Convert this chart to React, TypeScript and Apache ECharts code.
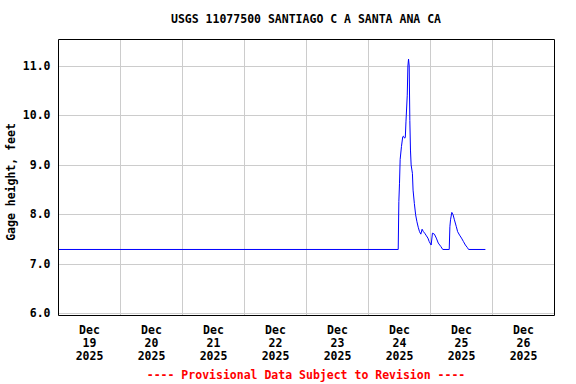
import React, { useEffect, useRef } from "react";
import * as echarts from "echarts";

const TITLE = "USGS 11077500 SANTIAGO C A SANTA ANA CA";
const Y_NAME = "Gage height, feet";
const FOOTER = "---- Provisional Data Subject to Revision ----";

// Day boundaries (gridlines) and day label positions
const dayStarts = ["12-19", "12-20", "12-21", "12-22", "12-23", "12-24", "12-25", "12-26", "12-27"];
const labelDays = ["12-19", "12-20", "12-21", "12-22", "12-23", "12-24", "12-25", "12-26"];
const yTicks = [6, 7, 8, 9, 10, 11];

// Observations (local time, 2025) and gage height in feet
const obsTimes = [
  "12-19 00:00", "12-24 11:30", "12-24 11:45", "12-24 12:00", "12-24 12:15",
  "12-24 12:45", "12-24 13:15", "12-24 13:30", "12-24 14:00", "12-24 14:15",
  "12-24 14:30", "12-24 15:00", "12-24 15:15", "12-24 15:30", "12-24 15:45",
  "12-24 16:00", "12-24 16:15", "12-24 16:30", "12-24 17:00", "12-24 17:15",
  "12-24 17:45", "12-24 18:15", "12-24 18:45", "12-24 19:15", "12-24 19:45",
  "12-24 20:15", "12-24 20:45", "12-24 21:15", "12-24 21:45", "12-24 22:15",
  "12-24 23:00", "12-24 23:30", "12-25 00:15", "12-25 00:45", "12-25 01:30",
  "12-25 02:15", "12-25 03:00", "12-25 04:00", "12-25 04:45", "12-25 07:15",
  "12-25 07:30", "12-25 07:45", "12-25 08:15", "12-25 08:45", "12-25 09:15",
  "12-25 10:00", "12-25 10:30", "12-25 11:15", "12-25 12:00", "12-25 12:45",
  "12-25 13:30", "12-25 14:15", "12-25 14:45", "12-25 21:15",
];
const gageHeight = [
  7.29, 7.29, 8.26, 8.63, 9.11,
  9.37, 9.57, 9.58, 9.54, 9.56,
  9.87, 10.41, 11.0, 11.14, 11.0,
  9.9, 9.3, 9.0, 8.83, 8.49,
  8.22, 7.99, 7.85, 7.74, 7.65,
  7.6, 7.7, 7.65, 7.62, 7.58,
  7.52, 7.45, 7.38, 7.62, 7.6,
  7.52, 7.42, 7.35, 7.29, 7.29,
  7.75, 7.89, 8.04, 7.99, 7.89,
  7.75, 7.65, 7.58, 7.52, 7.45,
  7.38, 7.33, 7.29, 7.29,
];

const MONTHS = ["Jan", "Feb", "Mar", "Apr", "May", "Jun", "Jul", "Aug", "Sep", "Oct", "Nov", "Dec"];

function toTs(s: string): number {
  const [md, hm] = s.split(" ");
  const [mo, d] = md.split("-").map(Number);
  const [hh, mm] = (hm || "00:00").split(":").map(Number);
  return new Date(2025, mo - 1, d, hh, mm).getTime();
}

const FONT = "'DejaVu Sans Mono', 'Liberation Mono', monospace";

export default function App() {
  const ref = useRef<HTMLDivElement>(null);

  useEffect(() => {
    if (!ref.current) return;
    const chart = echarts.init(ref.current, null, { renderer: "svg" });
    const data = obsTimes.map((t, i) => [toTs(t), gageHeight[i]]);
    const gridTimes = dayStarts.map((d) => toTs(d + " 00:00"));
    const labelTimes = labelDays.map((d) => toTs(d + " 12:00"));
    const innerGrid = gridTimes.slice(1, -1);

    chart.setOption({
      animation: false,
      backgroundColor: "#ffffff",
      grid: {
        left: 58.5,
        right: 21.5,
        top: 39.5,
        bottom: 68.5,
        show: true,
        borderColor: "#000000",
        borderWidth: 1,
        backgroundColor: "transparent",
        containLabel: false,
        z: 10,
      },
      xAxis: {
        type: "value",
        min: gridTimes[0],
        max: gridTimes[gridTimes.length - 1],
        axisLine: { show: false },
        axisTick: { show: false, customValues: innerGrid },
        splitLine: { show: true, lineStyle: { color: "#cccccc", width: 1 } },
        axisLabel: {
          customValues: labelTimes,
          hideOverlap: false,
          margin: 8,
          fontFamily: FONT,
          fontWeight: "bold",
          fontSize: 11.5,
          lineHeight: 12.8,
          color: "#000000",
          formatter: (v: number) => {
            const dt = new Date(v);
            return MONTHS[dt.getMonth()] + "\n" + dt.getDate() + "\n" + dt.getFullYear();
          },
        },
      },
      yAxis: {
        type: "value",
        min: 5.955,
        max: 11.536,
        axisLine: { show: false },
        axisTick: { show: false, customValues: yTicks },
        splitLine: { show: true, lineStyle: { color: "#cccccc", width: 1 } },
        axisLabel: {
          customValues: yTicks,
          margin: 8,
          fontFamily: FONT,
          fontWeight: "bold",
          fontSize: 11.5,
          color: "#000000",
          formatter: (v: number) => v.toFixed(1),
        },
      },
      graphic: [
        {
          type: "text",
          x: 306,
          y: 19,
          style: {
            text: TITLE,
            font: "bold 11.5px " + FONT,
            fill: "#000000",
            align: "center",
            verticalAlign: "middle",
          },
        },
        {
          type: "text",
          x: 11,
          y: 182,
          rotation: Math.PI / 2,
          style: {
            text: Y_NAME,
            font: "bold 11.5px " + FONT,
            fill: "#000000",
            align: "center",
            verticalAlign: "middle",
          },
        },
        {
          type: "text",
          x: 306,
          y: 374.5,
          style: {
            text: FOOTER,
            font: "bold 11.5px " + FONT,
            fill: "#ff0000",
            align: "center",
            verticalAlign: "middle",
          },
        },
      ],
      series: [
        {
          type: "line",
          data,
          showSymbol: false,
          symbol: "none",
          lineStyle: { color: "#0000ff", width: 1 },
          silent: true,
        },
      ],
    });

    return () => {
      chart.dispose();
    };
  }, []);

  return (
    <div
      ref={ref}
      style={{ position: "fixed", left: 0, top: 0, width: 576, height: 384, background: "#ffffff" }}
    />
  );
}
